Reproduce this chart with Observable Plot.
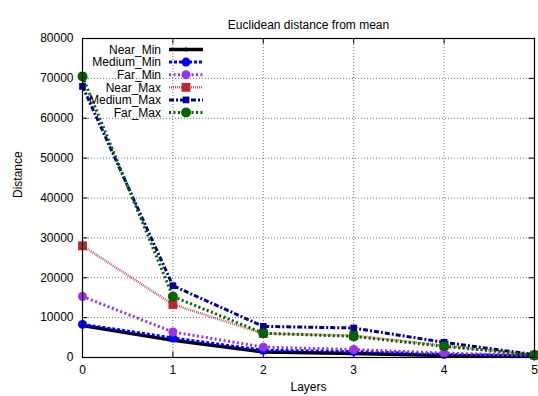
<!DOCTYPE html>
<html>
<head>
<meta charset="utf-8">
<script src="https://cdn.jsdelivr.net/npm/d3@7"></script>
<script src="https://cdn.jsdelivr.net/npm/@observablehq/plot@0.6"></script>
<style>
  html, body { margin: 0; padding: 0; background: #fff; }
  svg { font-family: "Liberation Sans", Arial, sans-serif; }
</style>
</head>
<body>
<div id="chart"></div>
<script>
const layers = [0, 1, 2, 3, 4, 5];
const seriesNames = ["Near_Min", "Medium_Min", "Far_Min", "Near_Max", "Medium_Max", "Far_Max"];
const nearMin   = [8000, 4300, 1400, 1000, 500, 300];
const mediumMin = [8300, 4900, 1800, 1500, 800, 400];
const farMin    = [15300, 6400, 2600, 2000, 1100, 500];
const nearMax   = [28000, 13300, 6000, 5500, 3000, 600];
const mediumMax = [68000, 18000, 7800, 7400, 3800, 700];
const farMax    = [70500, 15300, 6100, 5300, 2800, 600];
const yTicks = [0, 10000, 20000, 30000, 40000, 50000, 60000, 70000, 80000];
const xTicks = [0, 1, 2, 3, 4, 5];

const values = [nearMin, mediumMin, farMin, nearMax, mediumMax, farMax];
const styles = {
  Near_Min:   {color: "#000000", width: 3.5, dash: null,      opacity: 1,    symbol: "circle", r: 2},
  Medium_Min: {color: "#0000ff", width: 3,   dash: "3,2",     opacity: 1,    symbol: "circle", r: 4.5},
  Far_Min:    {color: "#9a32e6", width: 3,   dash: "2,2.5",   opacity: 1,    symbol: "circle", r: 4.5},
  Near_Max:   {color: "#b22a2a", width: 2.5, dash: "1,1",     opacity: 0.75, symbol: "square", r: 5},
  Medium_Max: {color: "#00008b", width: 3,   dash: "5,2,2,2", opacity: 1,    symbol: "square", r: 3.8},
  Far_Max:    {color: "#006400", width: 3,   dash: "2,2.5",   opacity: 1,    symbol: "circle", r: 5}
};

const data = seriesNames.flatMap((s, i) => layers.map((l, j) => ({series: s, layer: l, value: values[i][j]})));

const lineMarks = seriesNames.flatMap(s => {
  const st = styles[s];
  const d = data.filter(e => e.series === s);
  return [
    Plot.line(d, {x: "layer", y: "value", stroke: st.color, strokeWidth: st.width, strokeOpacity: st.opacity,
                  strokeDasharray: st.dash ?? undefined, strokeLinecap: "butt", strokeLinejoin: "miter"}),
    Plot.dot(d, {x: "layer", y: "value", fill: st.color, r: st.r, symbol: st.symbol, stroke: "none"})
  ];
});

const chart = Plot.plot({
  width: 538,
  height: 396,
  marginLeft: 82,
  marginRight: 4,
  marginTop: 38,
  marginBottom: 39,
  style: {fontFamily: "Liberation Sans, Arial, sans-serif", fontSize: "12px", background: "#fff"},
  x: {domain: [0, 5], label: null},
  y: {domain: [0, 80000], label: null},
  marks: [
    Plot.gridY(yTicks, {stroke: "#777", strokeOpacity: 1, strokeDasharray: "1,2"}),
    Plot.gridX(xTicks, {stroke: "#777", strokeOpacity: 1, strokeDasharray: "1,2"}),
    Plot.axisY(yTicks, {tickSize: 0, tickPadding: 9, fontSize: 12, tickFormat: d => String(d), label: null}),
    Plot.axisX(xTicks, {tickSize: 0, tickPadding: 8, fontSize: 12, label: null}),
    Plot.ruleY(yTicks, {x1: 0, x2: 0.06, stroke: "#000"}),
    Plot.ruleY(yTicks, {x1: 4.94, x2: 5, stroke: "#000"}),
    Plot.ruleX(xTicks, {y1: 0, y2: 1400, stroke: "#000"}),
    Plot.ruleX(xTicks, {y1: 78600, y2: 80000, stroke: "#000"}),
    ...lineMarks,
    Plot.frame({stroke: "#000", strokeWidth: 1.2}),
    Plot.text(["Euclidean distance from mean"], {frameAnchor: "top", dy: -18, fontSize: 12, fill: "#000"}),
    Plot.text(["Layers"], {frameAnchor: "bottom", dy: 33, fontSize: 12, fill: "#000"}),
    Plot.text(["Distance"], {frameAnchor: "left", dx: -64, rotate: -90, fontSize: 12, fill: "#000"})
  ]
});

const svg = d3.select(chart);

// Legend (gnuplot style, inside top-left)
const leg = svg.append("g").attr("font-size", 12).attr("font-family", "Liberation Sans, Arial, sans-serif");
seriesNames.forEach((s, i) => {
  const st = styles[s];
  const y = 49.5 + i * 12.6;
  leg.append("text").attr("x", 161).attr("y", y).attr("dy", "0.35em").attr("text-anchor", "end").attr("fill", "#000").text(s);
  leg.append("line").attr("x1", 169).attr("x2", 203).attr("y1", y).attr("y2", y)
    .attr("stroke", st.color).attr("stroke-width", st.width).attr("stroke-opacity", st.opacity)
    .attr("stroke-dasharray", st.dash);
  leg.append("path").attr("transform", `translate(186,${y})`)
    .attr("d", d3.symbol(st.symbol === "square" ? d3.symbolSquare : d3.symbolCircle, Math.PI * st.r * st.r)())
    .attr("fill", st.color);
});

document.getElementById("chart").appendChild(chart);
</script>
</body>
</html>
